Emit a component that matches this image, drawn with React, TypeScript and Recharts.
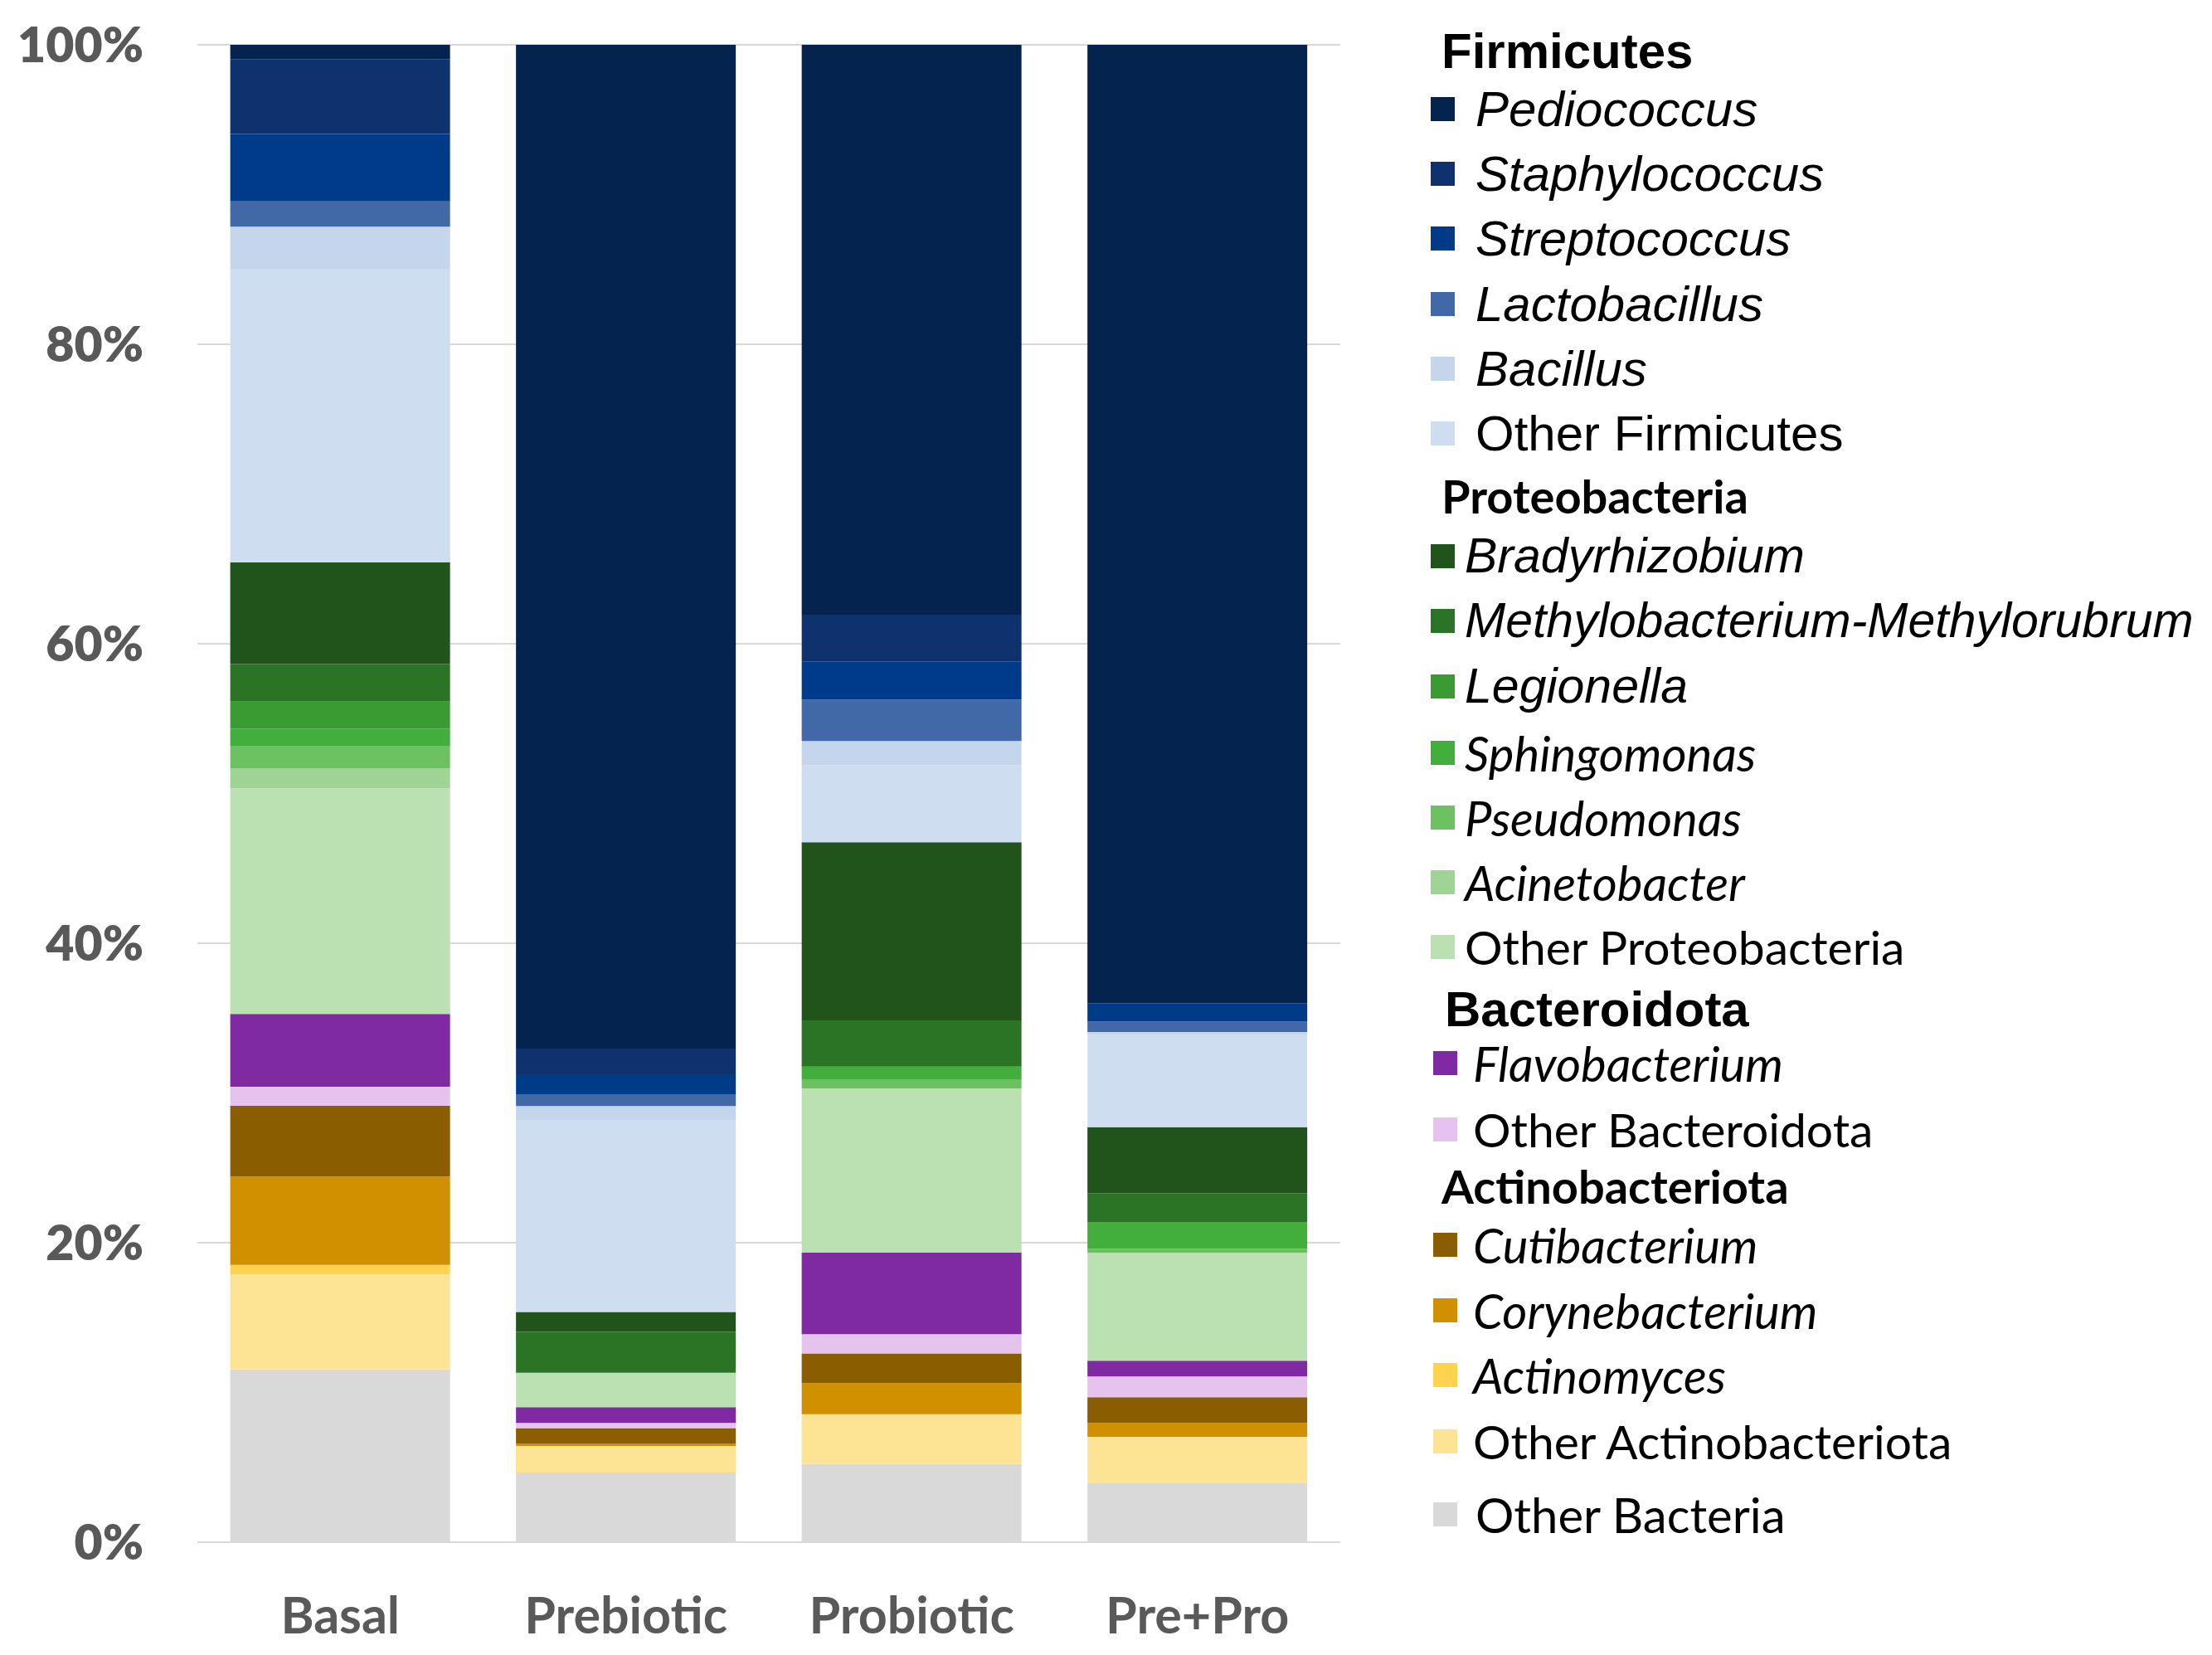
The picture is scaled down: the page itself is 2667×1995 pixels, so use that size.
import React from "react";
import { Bar, BarChart, CartesianGrid, XAxis, YAxis } from "recharts";

// treatments on the x axis
const categories = ["Basal", "Prebiotic", "Probiotic", "Pre+Pro"];

// relative abundance (%) per treatment
const pediococcus = [0.95, 67.04, 38.06, 64.0];
const staphylococcus = [5.0, 1.72, 3.12, 0];
const streptococcus = [4.5, 1.32, 2.54, 1.24];
const lactobacillus = [1.7, 0.79, 2.77, 0.69];
const bacillus = [2.8, 0.93, 1.62, 0.2];
const otherFirmicutes = [19.6, 12.83, 5.15, 6.15];
const bradyrhizobium = [6.8, 1.32, 11.89, 4.41];
const methylobacterium = [2.5, 2.73, 3.09, 1.93];
const legionella = [1.8, 0, 0, 0];
const sphingomonas = [1.15, 0, 0.89, 1.78];
const pseudomonas = [1.5, 0, 0.57, 0.26];
const acinetobacter = [1.35, 0, 0, 0];
const otherProteobacteria = [15.06, 2.3, 10.97, 7.22];
const flavobacterium = [4.86, 1.06, 5.44, 1.06];
const otherBacteroidota = [1.27, 0.34, 1.28, 1.38];
const cutibacterium = [4.73, 1.06, 1.99, 1.72];
const corynebacterium = [5.89, 0.13, 2.07, 0.92];
const actinomyces = [0.64, 0, 0, 0];
const otherActinobacteriota = [6.35, 1.77, 3.32, 3.1];
const otherBacteria = [11.53, 4.66, 5.23, 3.94];

// legend order (top of the stack first)
const taxa = [
  "Pediococcus",
  "Staphylococcus",
  "Streptococcus",
  "Lactobacillus",
  "Bacillus",
  "Other Firmicutes",
  "Bradyrhizobium",
  "Methylobacterium-Methylorubrum",
  "Legionella",
  "Sphingomonas",
  "Pseudomonas",
  "Acinetobacter",
  "Other Proteobacteria",
  "Flavobacterium",
  "Other Bacteroidota",
  "Cutibacterium",
  "Corynebacterium",
  "Actinomyces",
  "Other Actinobacteriota",
  "Other Bacteria",
];

const taxaValues = [
  pediococcus,
  staphylococcus,
  streptococcus,
  lactobacillus,
  bacillus,
  otherFirmicutes,
  bradyrhizobium,
  methylobacterium,
  legionella,
  sphingomonas,
  pseudomonas,
  acinetobacter,
  otherProteobacteria,
  flavobacterium,
  otherBacteroidota,
  cutibacterium,
  corynebacterium,
  actinomyces,
  otherActinobacteriota,
  otherBacteria,
];

const taxaColors = [
  "#04244F",
  "#0D326D",
  "#003B8A",
  "#4169A8",
  "#C5D5EC",
  "#CEDDF0",
  "#20541A",
  "#2B7426",
  "#399B32",
  "#42AE3B",
  "#6CC160",
  "#A0D495",
  "#BBE1B3",
  "#7F2AA2",
  "#E5C3EE",
  "#8A5E00",
  "#D09000",
  "#FFD34D",
  "#FDE494",
  "#D9D9D9",
];

const yTicks = [0, 0.2, 0.4, 0.6, 0.8, 1];

const chartData = categories.map((name, i) => {
  const row: Record<string, string | number> = { name };
  taxa.forEach((t, j) => {
    row[t] = taxaValues[j][i];
  });
  return row;
});

const ARIAL = "'Liberation Sans', Arial, sans-serif";
const CALIBRI = "Lato, 'Open Sans', sans-serif";

interface LegendRow {
  label: string;
  y: number;
  header?: boolean;
  italic?: boolean;
  font: string;
  size: number;
  textX: number;
  boxX?: number;
}

// legend layout, page coordinates minus the 8px body margin
const legendRows: LegendRow[] = [
  { label: "Firmicutes", y: 53, header: true, font: ARIAL, size: 60, textX: 1730 },
  { label: "Pediococcus", y: 123, italic: true, font: ARIAL, size: 60, textX: 1771, boxX: 1717 },
  { label: "Staphylococcus", y: 201, italic: true, font: ARIAL, size: 60, textX: 1771, boxX: 1717 },
  { label: "Streptococcus", y: 279, italic: true, font: ARIAL, size: 60, textX: 1771, boxX: 1717 },
  { label: "Lactobacillus", y: 358, italic: true, font: ARIAL, size: 60, textX: 1771, boxX: 1717 },
  { label: "Bacillus", y: 436, italic: true, font: ARIAL, size: 60, textX: 1771, boxX: 1717 },
  { label: "Other Firmicutes", y: 514, font: ARIAL, size: 60, textX: 1771, boxX: 1717 },
  { label: "Proteobacteria", y: 589, header: true, font: CALIBRI, size: 56, textX: 1730 },
  { label: "Bradyrhizobium", y: 662, italic: true, font: ARIAL, size: 59, textX: 1758, boxX: 1717 },
  { label: "Methylobacterium-Methylorubrum", y: 740, italic: true, font: ARIAL, size: 59, textX: 1758, boxX: 1717 },
  { label: "Legionella", y: 819, italic: true, font: ARIAL, size: 59, textX: 1758, boxX: 1717 },
  { label: "Sphingomonas", y: 899, italic: true, font: CALIBRI, size: 58, textX: 1758, boxX: 1717 },
  { label: "Pseudomonas", y: 977, italic: true, font: CALIBRI, size: 58, textX: 1758, boxX: 1717 },
  { label: "Acinetobacter", y: 1055, italic: true, font: CALIBRI, size: 58, textX: 1758, boxX: 1717 },
  { label: "Other Proteobacteria", y: 1133, font: CALIBRI, size: 57, textX: 1758, boxX: 1717 },
  { label: "Bacteroidota", y: 1208, header: true, font: ARIAL, size: 60, textX: 1734 },
  { label: "Flavobacterium", y: 1273, italic: true, font: CALIBRI, size: 58, textX: 1768, boxX: 1720 },
  { label: "Other Bacteroidota", y: 1353, font: CALIBRI, size: 57, textX: 1768, boxX: 1720 },
  { label: "Actinobacteriota", y: 1421, header: true, font: CALIBRI, size: 56, textX: 1730 },
  { label: "Cutibacterium", y: 1492, italic: true, font: CALIBRI, size: 58, textX: 1768, boxX: 1720 },
  { label: "Corynebacterium", y: 1571, italic: true, font: CALIBRI, size: 58, textX: 1768, boxX: 1720 },
  { label: "Actinomyces", y: 1649, italic: true, font: CALIBRI, size: 58, textX: 1768, boxX: 1720 },
  { label: "Other Actinobacteriota", y: 1729, font: CALIBRI, size: 57, textX: 1768, boxX: 1720 },
  { label: "Other Bacteria", y: 1817, font: CALIBRI, size: 58, textX: 1771, boxX: 1720 },
];

function TaxaLegend() {
  return (
    <svg
      width={2651}
      height={1979}
      style={{ position: "absolute", left: 0, top: 0, pointerEvents: "none" }}
    >
      {legendRows.map((row) => {
        const idx = taxa.indexOf(row.label);
        return (
          <g key={row.label}>
            {idx >= 0 && row.boxX !== undefined && (
              <rect
                x={row.boxX}
                y={row.y - 14}
                width={29}
                height={29}
                fill={taxaColors[idx]}
              />
            )}
            <text
              x={row.textX}
              y={row.y}
              dominantBaseline="central"
              fontFamily={row.font}
              fontSize={row.size}
              fontWeight={row.header ? 700 : 400}
              fontStyle={row.italic ? "italic" : "normal"}
              fill="#000000"
            >
              {row.label}
            </text>
          </g>
        );
      })}
    </svg>
  );
}

export default function App() {
  const stackOrder = [...taxa].reverse();
  return (
    <div style={{ position: "relative", width: 2651, height: 1979, background: "#ffffff" }}>
      <BarChart
        width={1640}
        height={1979}
        data={chartData}
        stackOffset="expand"
        barCategoryGap="11.5%"
        margin={{ top: 46, right: 32, bottom: 0, left: 0 }}
      >
        <CartesianGrid vertical={false} stroke="#D9D9D9" strokeWidth={2} />
        <XAxis
          dataKey="name"
          height={128}
          axisLine={false}
          tickLine={false}
          tickSize={0}
          tickMargin={67}
          tick={{ fill: "#595959", fontSize: 61, fontWeight: 700, fontFamily: CALIBRI }}
        />
        <YAxis
          width={230}
          domain={[0, 1]}
          ticks={yTicks}
          axisLine={false}
          tickLine={false}
          tickSize={0}
          tickMargin={65}
          tickFormatter={(v: number) => `${Math.round(v * 100)}%`}
          tick={{ fill: "#595959", fontSize: 59, fontWeight: 800, fontFamily: CALIBRI }}
        />
        {stackOrder.map((t) => (
          <Bar
            key={t}
            dataKey={t}
            stackId="a"
            fill={taxaColors[taxa.indexOf(t)]}
            isAnimationActive={false}
          />
        ))}
      </BarChart>
      <TaxaLegend />
    </div>
  );
}
